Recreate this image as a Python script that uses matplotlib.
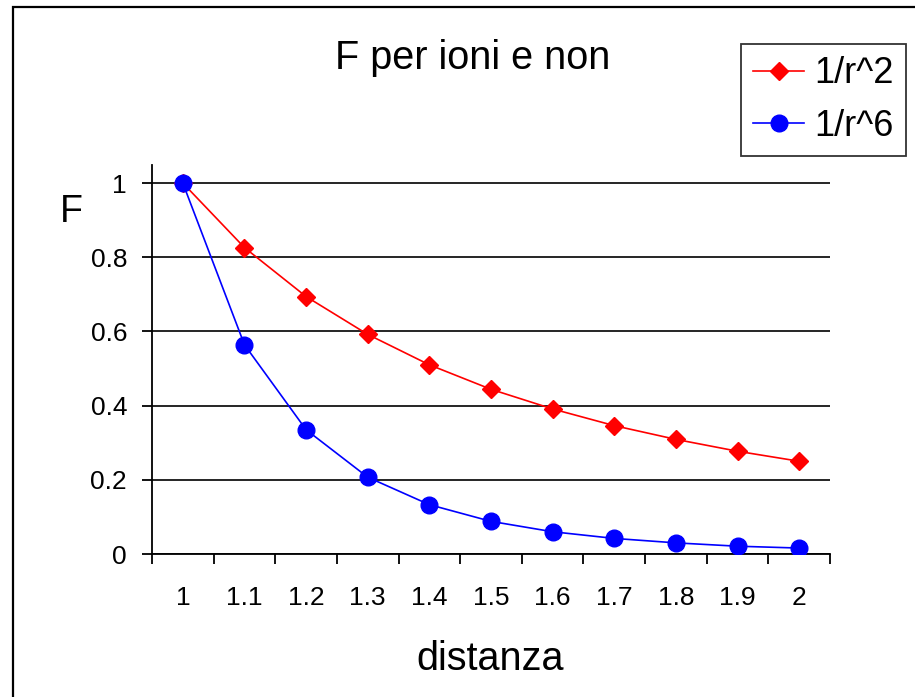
import matplotlib.pyplot as plt
import matplotlib.patches as patches
from matplotlib.ticker import FixedLocator

plt.rcParams['font.family'] = ['Liberation Sans', 'DejaVu Sans']

# distance categories and force values for the two laws
distanza = ['1', '1.1', '1.2', '1.3', '1.4', '1.5', '1.6', '1.7', '1.8', '1.9', '2']
f_r2 = [1.0, 0.826, 0.694, 0.592, 0.510, 0.444, 0.391, 0.346, 0.309, 0.277, 0.250]
f_r6 = [1.0, 0.564, 0.335, 0.207, 0.133, 0.088, 0.060, 0.042, 0.030, 0.021, 0.016]
y_ticks = [0, 0.2, 0.4, 0.6, 0.8, 1]

W, H = 915, 697
fig = plt.figure(figsize=(W / 100, H / 100), dpi=100)

# outer chart border (only top and left edges fall inside the image)
fig.patches.append(patches.Rectangle((13 / W, -0.1), 1.2, 1.1 - 7 / H, fill=False,
                                     edgecolor='black', linewidth=1.6,
                                     transform=fig.transFigure, figure=fig))

ax = fig.add_axes([152 / W, 1 - 554 / H, (830 - 152) / W, (554 - 164.5) / H])
x = list(range(1, len(distanza) + 1))

ax.plot(x, f_r2, color='red', marker='D', markersize=9, linewidth=1.2,
        label='1/r^2', zorder=3)
ax.plot(x, f_r6, color='blue', marker='o', markersize=12, linewidth=1.2,
        label='1/r^6', zorder=4)

ax.set_xlim(0.5, len(distanza) + 0.5)
ax.set_ylim(0, 1.05)

for s in ['top', 'right']:
    ax.spines[s].set_visible(False)
for s in ['left', 'bottom']:
    ax.spines[s].set_linewidth(1.3)

ax.set_yticks(y_ticks)
ax.set_yticklabels(['0', '0.2', '0.4', '0.6', '0.8', '1'])
ax.tick_params(axis='y', direction='out', length=7, width=1.3, labelsize=19, pad=11)
ax.yaxis.grid(True, color='black', linewidth=1.2)
ax.set_axisbelow(True)

ax.set_xticks(x)
ax.set_xticklabels(distanza)
ax.tick_params(axis='x', which='major', length=0, labelsize=19, pad=23)
ax.xaxis.set_minor_locator(FixedLocator([i + 0.5 for i in range(0, len(distanza) + 1)]))
ax.tick_params(axis='x', which='minor', direction='out', length=7, width=1.3)

fig.text(473 / W, 1 - 58 / H, 'F per ioni e non', fontsize=28.5, ha='center', va='center')
fig.text(490 / W, 1 - 659 / H, 'distanza', fontsize=28.5, ha='center', va='center')
fig.text(71 / W, 1 - 212 / H, 'F', fontsize=27, ha='center', va='center')

leg = fig.legend(loc='upper left', bbox_to_anchor=(741 / W, 1 - 44 / H),
                 fontsize=26, frameon=True, fancybox=False, edgecolor='black',
                 handlelength=1.4, handletextpad=0.3, borderpad=0.34,
                 labelspacing=0.48, borderaxespad=0)
leg.get_frame().set_linewidth(1.3)

plt.savefig('out.png', dpi=100)
